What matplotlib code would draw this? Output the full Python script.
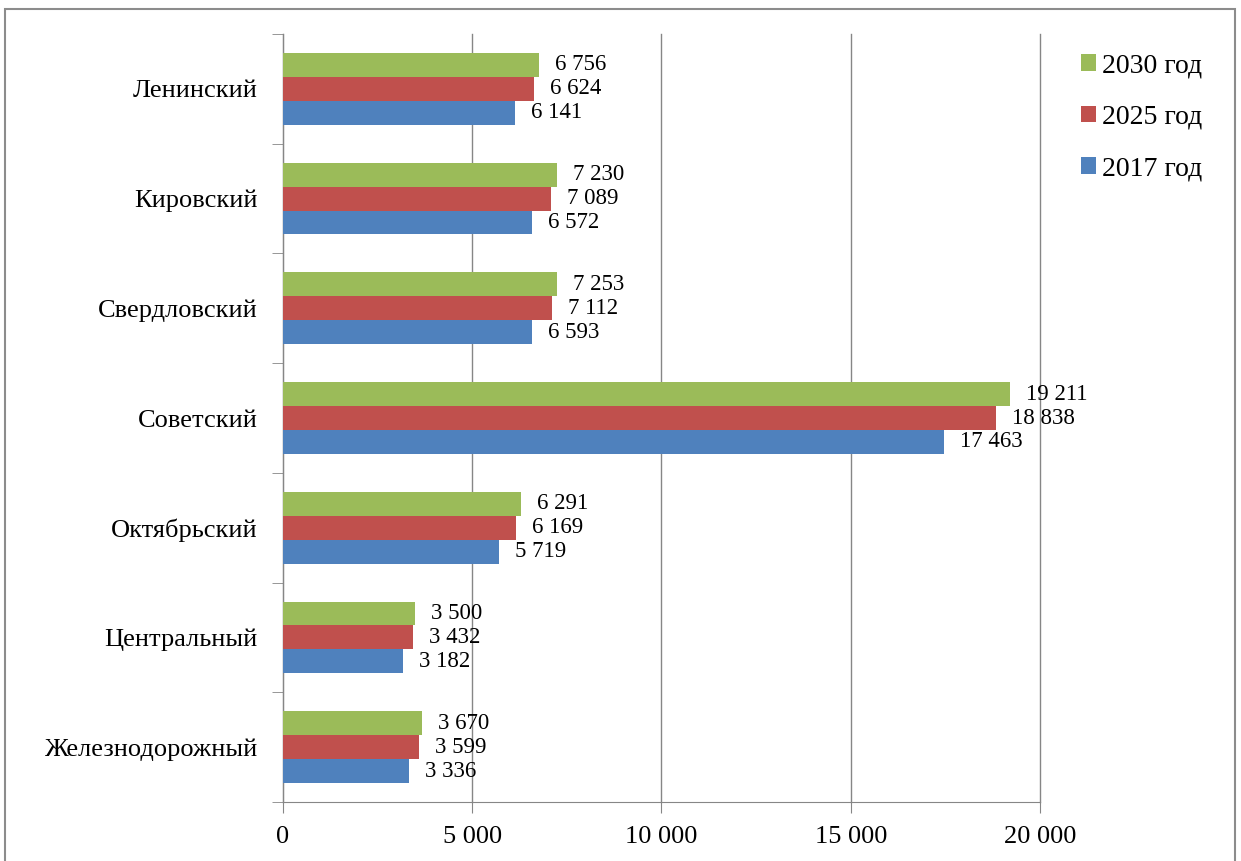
import matplotlib.pyplot as plt
import numpy as np
from matplotlib.patches import Rectangle

plt.rcParams['font.family'] = ['Liberation Serif', 'DejaVu Serif']

districts = ['Ленинский', 'Кировский', 'Свердловский', 'Советский',
             'Октябрьский', 'Центральный', 'Железнодорожный']
v2017 = [6141, 6572, 6593, 17463, 5719, 3182, 3336]
v2025 = [6624, 7089, 7112, 18838, 6169, 3432, 3599]
v2030 = [6756, 7230, 7253, 19211, 6291, 3500, 3670]
years = ['2017 год', '2025 год', '2030 год']
colors = ['#4F81BD', '#C0504D', '#9BBB59']
xticks = [0, 5000, 10000, 15000, 20000]

def fmt(v):
    return '{:,}'.format(v).replace(',', ' ')

fig = plt.figure(figsize=(12.41, 8.61), dpi=100)
ax = fig.add_axes([0.228, 0.0685, 0.61, 0.892])

# border of the chart area
fig.patches.append(Rectangle((0.004, -0.01), 0.991, 1.0, transform=fig.transFigure,
                             fill=False, edgecolor='#8c8c8c', linewidth=1.5))

n = len(districts)
y = np.arange(n)[::-1]  # Ленинский at top
h = 0.218
series = [v2017, v2025, v2030]
offs = [-h, 0, h]
for vals, c, o, lab in zip(series, colors, offs, years):
    ax.barh(y + o, vals, height=h, color=c, label=lab, zorder=3)
    for yy, v in zip(y, vals):
        ax.text(v + 420, yy + o, fmt(v), va='center', ha='left', fontsize=16.5, zorder=4)

ax.set_xlim(0, 20000)
ax.set_ylim(-0.5, n - 0.5)
ax.set_xticks(xticks)
ax.set_xticklabels([fmt(t) for t in xticks], fontsize=19)
ax.set_yticks(y)
ax.set_yticklabels(districts, fontsize=19)
ax.set_yticks(np.arange(n + 1) - 0.5, minor=True)
ax.tick_params(axis='y', which='major', length=0, pad=18)
ax.tick_params(axis='y', which='minor', length=8, color='#868686', direction='out')
ax.tick_params(axis='x', length=8, color='#868686', direction='out', pad=9)
ax.grid(axis='x', color='#868686', linewidth=1, zorder=0)
for gl in ax.get_xgridlines():
    gl.set_clip_on(False)
for s in ['top', 'right']:
    ax.spines[s].set_visible(False)
for s in ['left', 'bottom']:
    ax.spines[s].set_color('#868686')

handles, labels = ax.get_legend_handles_labels()
leg = fig.legend(handles[::-1], labels[::-1], loc='upper left',
                 bbox_to_anchor=(0.851, 0.967), frameon=False, fontsize=20,
                 handlelength=0.55, handleheight=0.55, handletextpad=0.2,
                 labelspacing=0.95)

fig.savefig('out.png', dpi=100)
